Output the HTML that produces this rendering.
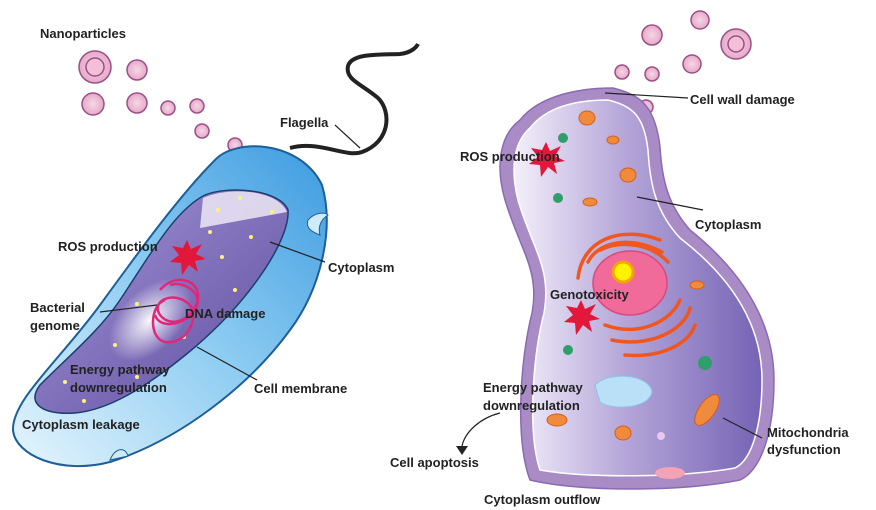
<!DOCTYPE html>
<html><head><meta charset="utf-8"><style>
html,body{margin:0;padding:0;background:#fff;}
svg{display:block;}
text{font-family:"Liberation Sans",sans-serif;font-weight:bold;font-size:13px;fill:#222;}
</style></head><body>
<svg width="876" height="510" viewBox="0 0 876 510" xmlns="http://www.w3.org/2000/svg">
<defs>
<radialGradient id="np" cx="50%" cy="50%" r="50%"><stop offset="0" stop-color="#f6d7e6"/><stop offset="1" stop-color="#e6a9c9"/></radialGradient>
<linearGradient id="bb" x1="0" y1="1" x2="1" y2="0"><stop offset="0" stop-color="#e6f5fd"/><stop offset="0.5" stop-color="#8fcdf2"/><stop offset="1" stop-color="#3d9be0"/></linearGradient>
<linearGradient id="bp" x1="0" y1="0" x2="1" y2="1"><stop offset="0" stop-color="#ece8f6"/><stop offset="0.35" stop-color="#8c7cc4"/><stop offset="1" stop-color="#5d4c9e"/></linearGradient>
<radialGradient id="glow" cx="50%" cy="50%" r="50%"><stop offset="0" stop-color="#fff" stop-opacity="0.95"/><stop offset="1" stop-color="#fff" stop-opacity="0"/></radialGradient>
<linearGradient id="cp" x1="0" y1="0" x2="1" y2="0"><stop offset="0" stop-color="#f3effa"/><stop offset="0.45" stop-color="#b4a5d8"/><stop offset="1" stop-color="#7563b5"/></linearGradient>
</defs>

<g stroke="#9b4f87" stroke-width="1.5" fill="url(#np)">
<circle cx="95" cy="67" r="16"/><circle cx="95" cy="67" r="9" fill="#f3c0d8"/>
<circle cx="137" cy="70" r="10"/><circle cx="93" cy="104" r="11"/><circle cx="137" cy="103" r="10"/>
<circle cx="168" cy="108" r="7"/><circle cx="197" cy="106" r="7"/><circle cx="202" cy="131" r="7"/><circle cx="235" cy="145" r="7"/>
<circle cx="736" cy="44" r="15"/><circle cx="736" cy="44" r="8" fill="#f3c0d8"/>
<circle cx="700" cy="20" r="9"/><circle cx="652" cy="35" r="10"/><circle cx="692" cy="64" r="9"/>
<circle cx="622" cy="72" r="7"/><circle cx="652" cy="74" r="7"/><circle cx="646" cy="107" r="7"/>
</g>

<path d="M290,148 C320,140 345,158 362,152 C390,142 392,112 378,98 C362,84 345,80 348,66 C352,52 385,55 400,54 C410,53 416,48 418,44" fill="none" stroke="#222" stroke-width="4"/>

<!-- bacterium -->
<path d="M215,160 C235,138 300,140 322,185 C335,230 320,290 290,330 C250,385 180,440 110,462 C60,475 15,455 13,430 C12,400 60,360 100,305 C140,250 180,195 215,160 Z" fill="url(#bb)" stroke="#1c5f99" stroke-width="2"/>
<path d="M205,195 C230,185 280,190 288,210 C290,240 250,300 195,347 C150,385 110,410 75,413 C45,415 25,405 40,385 C70,355 100,330 120,300 C150,255 175,210 205,195 Z" fill="url(#bp)" stroke="#1c3f6e" stroke-width="1.5"/>
<path d="M203,198 C230,186 278,190 287,212 L200,228 Z" fill="#ece8f6" opacity="0.85"/>
<ellipse cx="150" cy="320" rx="50" ry="30" fill="url(#glow)" transform="rotate(-45 150 320)"/>
<path d="M308,220 C315,212 325,212 328,215 C320,220 318,228 320,235 C312,232 305,228 308,220 Z" fill="#cfeaf9" stroke="#1c5f99"/>
<path d="M110,460 C115,448 125,446 128,456 Z" fill="#cfeaf9" stroke="#1c5f99"/>
<g fill="#fff27a">
<circle cx="240" cy="198" r="2"/><circle cx="218" cy="210" r="2"/><circle cx="272" cy="212" r="2"/><circle cx="210" cy="232" r="2"/><circle cx="251" cy="237" r="2"/><circle cx="222" cy="257" r="2"/><circle cx="235" cy="290" r="2"/><circle cx="137" cy="304" r="2"/><circle cx="115" cy="345" r="2"/><circle cx="184" cy="337" r="2"/><circle cx="137" cy="377" r="2"/><circle cx="65" cy="382" r="2"/><circle cx="84" cy="401" r="2"/></g>
<g fill="none" stroke="#e0287a" stroke-width="2.5">
<path d="M160,290 C175,272 200,280 198,298 C195,318 172,330 160,315 C150,300 175,290 190,305 C200,320 185,345 165,342 C148,338 150,305 165,300"/>
<path d="M170,285 C185,280 205,295 195,310 C185,325 160,330 155,315"/>
</g>
<polygon points="187,240 191,249 202,244 196,254 206,259 195,261 198,272 189,265 182,275 181,263 170,262 179,255 172,246 183,248" fill="#e3173a"/>

<!-- right cell -->
<path d="M520,120 C540,95 580,88 613,88 C640,95 655,105 660,147 C662,180 668,205 690,230 C740,270 774,320 774,380 C774,430 762,470 740,480 C680,492 580,492 530,480 C515,440 520,360 532,313 C540,270 520,250 505,200 C495,165 500,135 520,120 Z" fill="#a98bc6" stroke="#8a6bb3" stroke-width="1.5"/>
<path d="M530,128 C548,105 580,100 608,100 C632,106 644,115 648,150 C650,185 656,212 680,238 C728,275 762,322 762,380 C762,425 752,460 735,468 C680,478 585,478 540,470 C528,435 532,360 544,313 C552,268 532,248 518,200 C510,168 514,142 530,128 Z" fill="url(#cp)" stroke="#fff" stroke-width="1.5"/>
<g fill="none" stroke="#f0561e" stroke-width="3.5" stroke-linecap="round">
<path d="M578,278 C582,240 620,225 660,240"/><path d="M588,262 C598,242 630,235 662,252"/><path d="M600,250 C620,240 650,243 668,262"/>
<path d="M612,340 C650,348 685,330 690,308"/><path d="M605,325 C640,338 672,320 680,300"/><path d="M625,355 C660,358 688,345 695,325"/>
</g>
<ellipse cx="630" cy="283" rx="37" ry="32" fill="#f06a9a" stroke="#d94a7e" stroke-width="1.5"/>
<circle cx="623" cy="272" r="10" fill="#fff200" stroke="#f5a400" stroke-width="3"/>
<polygon points="581,300 585,309 596,304 590,314 600,319 589,321 592,332 583,325 576,335 575,323 564,322 573,315 566,306 577,308" fill="#e3173a"/>
<polygon points="546,142 550,151 561,146 555,156 565,161 554,163 557,174 548,167 541,177 540,165 529,164 538,157 531,148 542,150" fill="#e3173a"/>
<path d="M595,385 C610,370 650,375 652,392 C648,410 610,410 600,402 Z" fill="#b9e0f7" stroke="#8cc4e8"/>
<g fill="#2f9e6a"><circle cx="563" cy="138" r="5"/><circle cx="558" cy="198" r="5"/><circle cx="568" cy="350" r="5"/><circle cx="705" cy="363" r="7"/></g>
<g fill="#f08a3c" stroke="#d45f1c"><ellipse cx="587" cy="118" rx="8" ry="7"/><ellipse cx="628" cy="175" rx="8" ry="7"/><ellipse cx="613" cy="140" rx="6" ry="4"/><ellipse cx="623" cy="433" rx="8" ry="7"/><ellipse cx="557" cy="420" rx="10" ry="6"/><ellipse cx="707" cy="410" rx="8" ry="18" transform="rotate(35 707 410)"/><ellipse cx="590" cy="202" rx="7" ry="4"/><ellipse cx="697" cy="285" rx="7" ry="4"/></g>
<ellipse cx="670" cy="473" rx="15" ry="6" fill="#f2a3b5"/>
<circle cx="661" cy="436" r="4" fill="#e8c8ef"/>

<g stroke="#222" stroke-width="1.2" fill="none">
<line x1="605" y1="93" x2="688" y2="98"/><line x1="637" y1="197" x2="703" y2="210"/>
<line x1="270" y1="242" x2="325" y2="262"/><line x1="335" y1="125" x2="360" y2="148"/>
<line x1="197" y1="347" x2="257" y2="380"/><line x1="100" y1="312" x2="157" y2="305"/>
<line x1="723" y1="418" x2="762" y2="438"/>
<path d="M500,413 C480,418 465,432 462,446"/></g>
<polygon points="456,446 468,446 462,455" fill="#222"/>

<text x="40" y="38">Nanoparticles</text>
<text x="280" y="127">Flagella</text>
<text x="58" y="251">ROS production</text>
<text x="328" y="272">Cytoplasm</text>
<text x="30" y="312">Bacterial</text><text x="30" y="330">genome</text>
<text x="185" y="318">DNA damage</text>
<text x="70" y="374">Energy pathway</text><text x="70" y="392">downregulation</text>
<text x="254" y="393">Cell membrane</text>
<text x="22" y="429">Cytoplasm  leakage</text>
<text x="690" y="104">Cell wall damage</text>
<text x="460" y="161">ROS production</text>
<text x="695" y="229">Cytoplasm</text>
<text x="550" y="299">Genotoxicity</text>
<text x="483" y="392">Energy pathway</text><text x="483" y="410">downregulation</text>
<text x="390" y="467">Cell apoptosis</text>
<text x="767" y="437">Mitochondria</text><text x="767" y="454">dysfunction</text>
<text x="484" y="504">Cytoplasm outflow</text>
</svg>
</body></html>
